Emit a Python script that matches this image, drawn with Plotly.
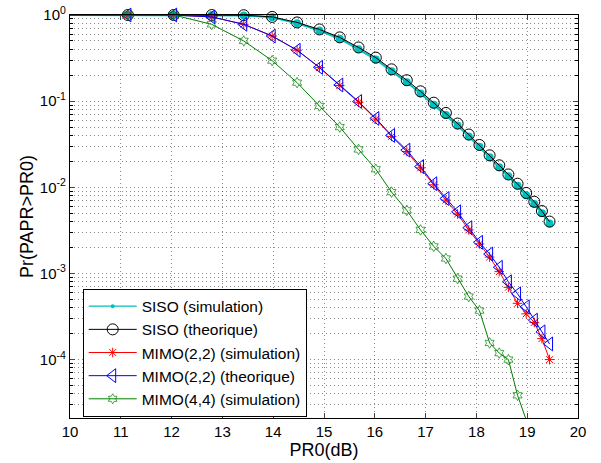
import plotly.graph_objects as go

# PR0 en dB (grille commune a toutes les courbes)
pr0 = [8.45, 11.14, 12.04, 12.79, 13.42, 13.98, 14.47, 14.91, 15.31, 15.68, 16.02,
       16.33, 16.63, 16.90, 17.16, 17.40, 17.63, 17.85, 18.06, 18.26, 18.45,
       18.63, 18.81, 18.98, 19.14, 19.29, 19.44]

siso_sim = [1.0, 1.0, 1.0, 0.998, 0.99, 0.94, 0.80, 0.66, 0.53, 0.40, 0.305,
            0.223, 0.166, 0.123, 0.091, 0.069, 0.052, 0.039, 0.0295, 0.0223, 0.0171,
            0.0134, 0.0104, 0.0081, 0.0064, 0.0050, 0.0038]
siso_th = [1.0, 1.0, 1.0, 0.999, 0.995, 0.95, 0.82, 0.68, 0.55, 0.42, 0.32,
           0.234, 0.175, 0.13, 0.096, 0.073, 0.055, 0.041, 0.031, 0.0235, 0.018,
           0.0141, 0.011, 0.0086, 0.0068, 0.0053, 0.0040]
mimo22_sim = [1.0, 1.0, 1.0, 0.95, 0.78, 0.57, 0.39, 0.245, 0.152, 0.097, 0.062,
              0.039, 0.026, 0.0168, 0.0107, 0.0071, 0.0049, 0.0032, 0.0022, 0.00155, 0.00105,
              0.00069, 0.00045, 0.00034, 0.00027, 0.000175, 0.0001]
mimo22_th = [1.0, 1.0, 1.0, 0.95, 0.78, 0.57, 0.39, 0.247, 0.154, 0.099, 0.063,
             0.040, 0.027, 0.0174, 0.011, 0.0074, 0.0052, 0.0034, 0.0023, 0.00168, 0.00118,
             0.0008, 0.00058, 0.00041, 0.000287, 0.00021, 0.000152]
mimo44_sim = [1.0, 1.0, 1.0, 0.78, 0.50, 0.295, 0.164, 0.088, 0.050, 0.0275, 0.0162,
              0.0088, 0.0054, 0.0032, 0.00206, 0.00149, 0.00087, 0.00054, 0.00037, 0.000156, 0.000119,
              0.0001, 0.0000385, 0.00002]

xticks = list(range(10, 21))
yticks = [1e-4, 1e-3, 1e-2, 1e-1, 1]
ylabels = ["10<sup>-4</sup>", "10<sup>-3</sup>", "10<sup>-2</sup>", "10<sup>-1</sup>", "10<sup>0</sup>"]
yminor = [m * 10.0 ** e for e in range(-5, 0) for m in range(2, 10)]

CYAN = "rgb(0,191,191)"
GREEN = "rgb(0,128,0)"
RED = "rgb(255,0,0)"
BLUE = "rgb(0,0,255)"
GRID = "rgba(0,0,0,0.45)"

fig = go.Figure()

# SISO simulation (le marqueur de la legende est plus petit)
fig.add_scatter(x=pr0, y=siso_sim, mode="lines+markers", showlegend=False,
                line=dict(color=CYAN, width=2),
                marker=dict(symbol="circle", size=8, color=CYAN))
fig.add_scatter(x=[None], y=[None], mode="lines+markers", name="SISO (simulation)",
                line=dict(color=CYAN, width=1.2),
                marker=dict(symbol="circle", size=4, color=CYAN))
fig.add_scatter(x=pr0, y=siso_th, mode="lines+markers", name="SISO (theorique)",
                line=dict(color="black", width=1),
                marker=dict(symbol="circle-open", size=11, color="black", line=dict(width=1)))
fig.add_scatter(x=pr0, y=mimo22_sim, mode="lines+markers", name="MIMO(2,2) (simulation)",
                line=dict(color=RED, width=1),
                marker=dict(symbol="asterisk-open", size=8, color=RED, line=dict(width=1, color=RED)))
fig.add_scatter(x=pr0, y=mimo22_th, mode="lines+markers", name="MIMO(2,2) (theorique)",
                line=dict(color=BLUE, width=1),
                marker=dict(symbol="triangle-left-open", size=12, color=BLUE, line=dict(width=1)))
sizes44 = [8] * (len(mimo44_sim) - 1) + [0]
fig.add_scatter(x=pr0[:len(mimo44_sim)], y=mimo44_sim, mode="lines+markers",
                name="MIMO(4,4) (simulation)",
                line=dict(color=GREEN, width=1),
                marker=dict(symbol="hexagram-open", size=sizes44, color=GREEN, line=dict(width=1)))

fig.update_traces(cliponaxis=False)

fig.update_xaxes(range=[10, 20], tickvals=xticks, ticks="inside", ticklen=5,
                 showline=True, linecolor="black", linewidth=1.3, mirror="ticks",
                 showgrid=True, gridcolor=GRID, griddash="1px,3px", gridwidth=1,
                 zeroline=False, automargin=False,
                 title=dict(text="PR0(dB)", standoff=4),
                 tickfont=dict(size=15))
fig.update_yaxes(type="log", range=[-4.678, 0], tickvals=yticks, ticktext=ylabels,
                 ticks="inside", ticklen=5,
                 showline=True, linecolor="black", linewidth=1.3, mirror="ticks",
                 showgrid=True, gridcolor=GRID, griddash="1px,3px", gridwidth=1,
                 minor=dict(tickvals=yminor, ticks="inside", ticklen=3, tickcolor="black",
                            showgrid=True, gridcolor=GRID, griddash="1px,3px"),
                 zeroline=False, automargin=False,
                 title=dict(text="Pr(PAPR>PR0)", standoff=1),
                 tickfont=dict(size=15))

fig.update_layout(
    width=601, height=463,
    margin=dict(l=70, r=23, t=15, b=45),
    paper_bgcolor="white", plot_bgcolor="white",
    font=dict(family="Liberation Sans, Arial, sans-serif", size=15, color="black"),
    legend=dict(x=0.025, y=0.321, xanchor="left", yanchor="top",
                bgcolor="white", bordercolor="black", borderwidth=1,
                itemwidth=48, font=dict(size=15.5), tracegroupgap=0),
)

# pas de marge de page autour du graphique
fig.write_html("out.html", config={"displayModeBar": False},
               post_script="document.body.style.margin='0';")
